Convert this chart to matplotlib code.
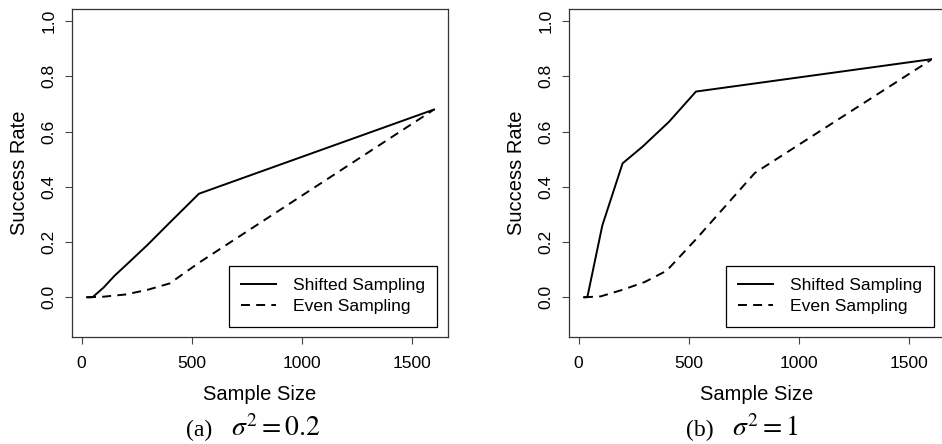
import numpy as np
import matplotlib
matplotlib.use('Agg')
import matplotlib.pyplot as plt

plt.rcParams['font.family'] = ['Liberation Sans', 'DejaVu Sans']
plt.rcParams['mathtext.fontset'] = 'stix'

# 左图 sigma^2 = 0.2
left_shift_x = [25, 50, 100, 150, 200, 300, 400, 533, 1600]
left_shift_y = [0.0, 0.0, 0.035, 0.078, 0.115, 0.19, 0.27, 0.375, 0.68]
left_even_x = [25, 100, 200, 300, 400, 533, 1600]
left_even_y = [0.0, 0.002, 0.01, 0.027, 0.05, 0.125, 0.68]

# 右图 sigma^2 = 1
right_shift_x = [25, 40, 108, 200, 290, 410, 533, 1600]
right_shift_y = [0.0, 0.0, 0.26, 0.485, 0.545, 0.635, 0.745, 0.862]
right_even_x = [25, 100, 200, 300, 400, 533, 800, 1600]
right_even_y = [0.0, 0.003, 0.027, 0.055, 0.096, 0.21, 0.45, 0.86]

legend_labels = ['Shifted Sampling', 'Even Sampling']
xticks = [0, 500, 1000, 1500]
yticks = [0.0, 0.2, 0.4, 0.6, 0.8, 1.0]
panel_tags = ['(a)', '(b)']
panel_eqs = ['$\\sigma^2 = 0.2$', '$\\sigma^2 = 1$']


def draw_panel(ax, sx, sy, ex, ey):
    ax.plot(sx, sy, color='black', lw=1.4, linestyle='-', label=legend_labels[0])
    ax.plot(ex, ey, color='black', lw=1.4, linestyle=(0, (4.6, 3.2)), label=legend_labels[1])
    ax.set_xlim(-43.2, 1663.2)
    ax.set_ylim(-0.144, 1.044)
    ax.set_xticks(xticks)
    ax.set_yticks(yticks)
    ax.set_xticklabels([str(t) for t in xticks], fontsize=12.6)
    ax.set_yticklabels(['%.1f' % t for t in yticks], fontsize=12.6, rotation=90, va='center')
    ax.tick_params(axis='both', length=5, width=0.8, color='#444444')
    ax.tick_params(axis='x', pad=9)
    ax.tick_params(axis='y', pad=6)
    for sp in ax.spines.values():
        sp.set_color('#333333')
        sp.set_linewidth(0.9)
    ax.set_xlabel('Sample Size', fontsize=14.5, labelpad=10)
    ax.set_ylabel('Success Rate', fontsize=14.5, labelpad=9)
    leg = ax.legend(loc='lower right', bbox_to_anchor=(0.9715, 0.0314), borderaxespad=0,
                    fontsize=12.6, handlelength=2.0, handletextpad=0.95,
                    borderpad=0.7, labelspacing=0.34, fancybox=False, framealpha=1)
    leg.get_frame().set_edgecolor('black')
    leg.get_frame().set_linewidth(0.9)


fig = plt.figure(figsize=(9.42, 4.44), dpi=100)
ax1 = fig.add_axes([72 / 942, 107 / 444, 376 / 942, 328 / 444])
ax2 = fig.add_axes([569 / 942, 107 / 444, 376 / 942, 328 / 444])

draw_panel(ax1, left_shift_x, left_shift_y, left_even_x, left_even_y)
draw_panel(ax2, right_shift_x, right_shift_y, right_even_x, right_even_y)
ax2.spines['right'].set_visible(False)

# 子图标题
fig.text(186 / 942, 8 / 444, panel_tags[0], fontsize=17, family='Liberation Serif', ha='left', va='baseline')
fig.text(231 / 942, 8 / 444, panel_eqs[0], fontsize=20, ha='left', va='baseline')
fig.text(686 / 942, 8 / 444, panel_tags[1], fontsize=17, family='Liberation Serif', ha='left', va='baseline')
fig.text(732 / 942, 8 / 444, panel_eqs[1], fontsize=20, ha='left', va='baseline')

fig.savefig('out.png', dpi=100)
